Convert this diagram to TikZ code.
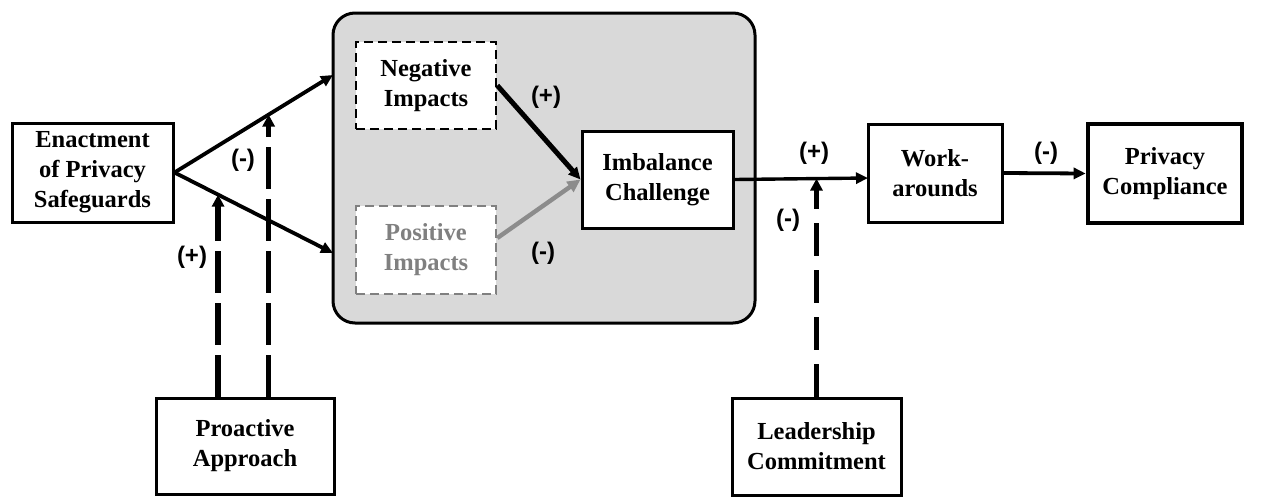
\documentclass[tikz,border=0pt]{standalone}
\usepackage{fontspec}
\setmainfont{Liberation Serif}
\newfontfamily\lblfont{Liberation Sans}
\usetikzlibrary{arrows.meta}
\definecolor{grpfill}{RGB}{217,217,217}
\definecolor{posgray}{RGB}{128,128,128}
\definecolor{arrgray}{RGB}{140,140,140}
\begin{document}
\begin{tikzpicture}[x=1pt,y=-1pt,
  box/.style={draw=black,line width=3pt,fill=white,align=center,inner sep=0pt,
    font=\fontsize{24.5}{30}\selectfont\bfseries},
  dbox/.style={box,line width=2.6pt,dash pattern=on 9pt off 5pt},
  arr/.style={line width=3.8pt,-{Triangle[length=12pt,width=11pt]}},
  dsh/.style={line width=5.5pt,dash pattern=on 42pt off 10pt,-{Triangle[length=12pt,width=12pt]}},
  lbl/.style={font=\lblfont\fontsize{24}{26}\selectfont\bfseries,inner sep=0pt}]
\useasboundingbox (0,0) rectangle (1272,496);
% group
\node[draw=black,line width=3pt,fill=grpfill,rounded corners=22pt,minimum width=422pt,minimum height=310pt,inner sep=0pt] (grp) at (544,168) {};
% nodes
\node[box,minimum width=161pt,minimum height=99pt] (enact) at (92.5,172.5) {Enactment\\of Privacy\\Safeguards};
\node[dbox,minimum width=140pt,minimum height=87pt] (neg) at (426,85.5) {Negative\\Impacts};
\node[dbox,draw=posgray,text=posgray,minimum width=140pt,minimum height=88pt] (pos) at (426,250) {Positive\\Impacts};
\node[box,minimum width=151pt,minimum height=97pt] (imb) at (657.5,179.5) {Imbalance\\Challenge};
\node[box,minimum width=134pt,minimum height=98pt] (work) at (935,173) {Work-\\arounds};
\node[box,line width=4.6pt,minimum width=154pt,minimum height=99pt] (priv) at (1165,173.5) {Privacy\\Compliance};
\node[box,minimum width=178pt,minimum height=96pt] (pro) at (245,446) {Proactive\\Approach};
\node[box,minimum width=169pt,minimum height=97pt] (lead) at (816.5,446.5) {Leadership\\Commitment};
% connectors
\coordinate (upin) at (333,75);
\coordinate (loin) at (333,253);
\coordinate (wkin) at (868,178);
\draw[arr] (enact.east) -- coordinate[pos=0.594] (m1) (upin);
\draw[arr] (enact.east) -- coordinate[pos=0.275] (m2) (loin);
\draw[arr,line width=5pt] (neg.east) -- (imb.west);
\draw[arr,draw=arrgray,line width=4.4pt,-{Triangle[length=13pt,width=12pt]}] ([yshift=12pt]pos.east) -- (imb.west);
\draw[arr,line width=3.4pt] (imb.east) -- coordinate[pos=0.615] (m3) (wkin);
\draw[arr] (work.east) -- (priv.west);
\draw[dsh] (pro.north -| m1) -- (m1);
\draw[dsh] (pro.north -| m2) -- (m2);
\draw[dsh,dash pattern=on 33pt off 14pt] (lead.north) -- (lead.north |- m3);
% labels
\node[lbl] (l1) at (243,160) {(-)};
\node[lbl] (l2) at (192,257) {(+)};
\node[lbl] (l3) at (546,97) {(+)};
\node[lbl] (l4) at (543,253) {(-)};
\node[lbl] (l5) at (814,153) {(+)};
\node[lbl] (l6) at (788,220) {(-)};
\node[lbl] (l7) at (1046,153) {(-)};
\end{tikzpicture}
\end{document}
